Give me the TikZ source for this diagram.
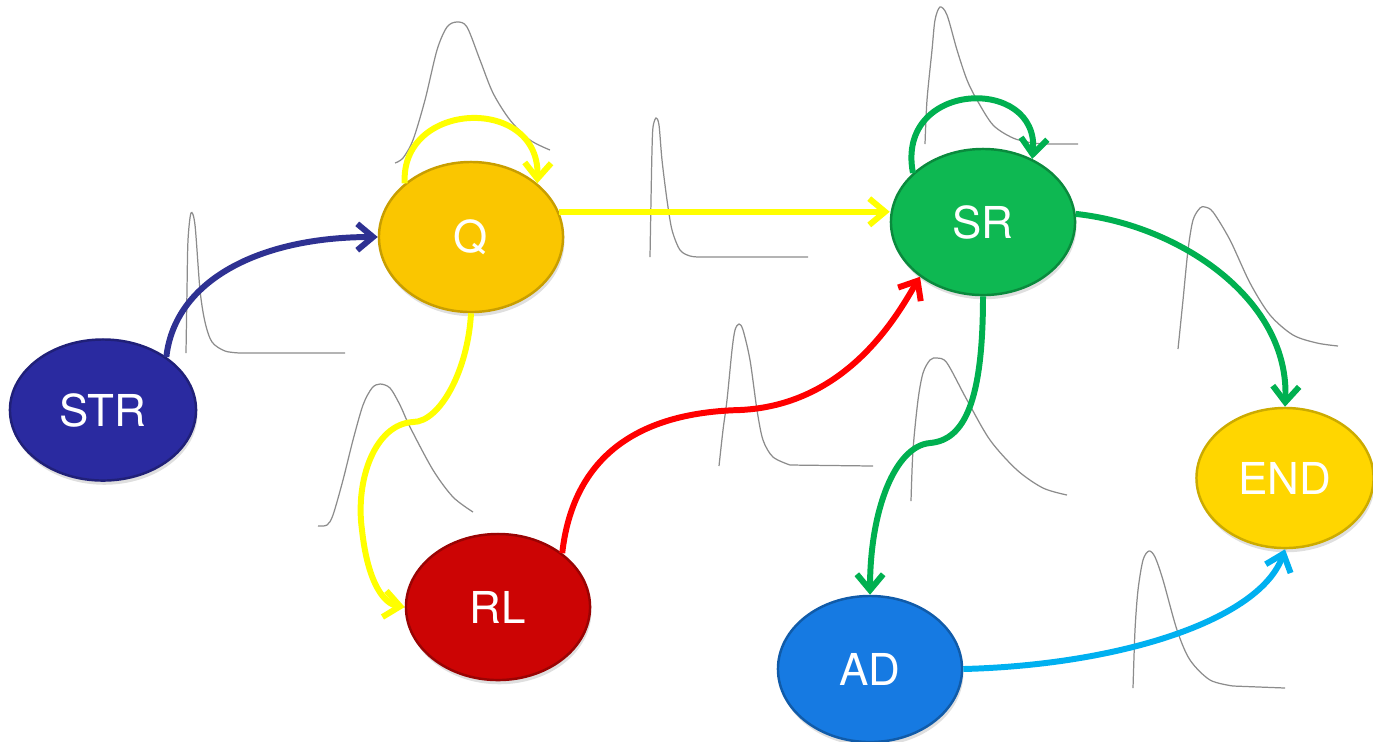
\documentclass[tikz,border=0pt]{standalone}
\usepackage{fontspec}
\newfontfamily\nodefont{TeX Gyre Heros}
\usetikzlibrary{shapes.geometric,arrows.meta,shadows}
\definecolor{cSTR}{RGB}{42,42,160}
\definecolor{cQ}{RGB}{250,198,0}
\definecolor{cSR}{RGB}{14,184,82}
\definecolor{cRL}{RGB}{204,4,4}
\definecolor{cAD}{RGB}{22,122,226}
\definecolor{cEND}{RGB}{255,214,0}
\definecolor{aBlue}{RGB}{46,49,146}
\definecolor{aYel}{RGB}{255,255,0}
\definecolor{aRed}{RGB}{255,0,0}
\definecolor{aGreen}{RGB}{0,176,80}
\definecolor{aCyan}{RGB}{0,176,240}
\definecolor{curvegray}{RGB}{140,140,140}
\tikzset{
  stnode/.style={ellipse, inner sep=0pt, line width=0.7pt, text=white,
    font=\nodefont\fontsize{12.5}{14}\selectfont,
    minimum width=1.84cm, minimum height=1.46cm,
    drop shadow={opacity=0.25, shadow xshift=0.4pt, shadow yshift=-1.2pt}},
  conn/.style={line width=1.7pt, -{Straight Barb[length=4.5pt,width=7.5pt]}},
  dist/.style={draw=curvegray, line width=0.35pt},
}
\begin{document}
\begin{tikzpicture}[x=0.01cm,y=-0.01cm]
\useasboundingbox (0,0) rectangle (1373,741);
% distribution curves
\draw[dist] plot[smooth,tension=0.5] coordinates {(186,353) (187,290) (188,240) (191,213) (195,225) (200,290) (205,322) (212,342) (225,351) (240,353)} -- (345,353);
\draw[dist] plot[smooth,tension=0.5] coordinates {(395,163) (403,158) (413,140) (425,100) (437,50) (447,27) (457,22) (467,27) (480,60) (493,93) (510,120) (530,140) (550,150)};
\draw[dist] plot[smooth,tension=0.5] coordinates {(925,144) (927,100) (932,50) (935,20) (940,7) (947,15) (957,50) (967,80) (977,100) (993,125) (1013,138) (1033,143) (1050,144)} -- (1078,144);
\draw[dist] plot[smooth,tension=0.5] coordinates {(650,257) (651,200) (652,150) (653,127) (656,118) (659,125) (662,160) (667,200) (672,230) (680,250) (690,256) (700,257)} -- (808,257);
\draw[dist] plot[smooth,tension=0.5] coordinates {(318,526) (327,525) (333,515) (343,480) (353,440) (363,405) (372,388) (380,384) (390,388) (400,405) (410,427) (433,470) (453,497) (473,512)};
\draw[dist] plot[smooth,tension=0.5] coordinates {(719,466) (723,430) (727,400) (732,350) (735,330) (739,324) (743,330) (750,360) (757,410) (763,440) (773,457) (790,465)} -- (873,466);
\draw[dist] plot[smooth,tension=0.5] coordinates {(911,501) (913,450) (918,400) (923,373) (930,360) (937,358) (947,363) (967,400) (990,440) (1017,470) (1043,488) (1067,495)};
\draw[dist] plot[smooth,tension=0.5] coordinates {(1178,349) (1183,300) (1188,250) (1193,220) (1200,208) (1205,207) (1213,212) (1230,240) (1250,283) (1270,315) (1293,335) (1317,343) (1338,346)};
\draw[dist] plot[smooth,tension=0.5] coordinates {(1133,688) (1135,630) (1138,590) (1143,560) (1149,551) (1155,557) (1163,580) (1177,630) (1190,660) (1210,680) (1233,686)} -- (1285,688);
% nodes
\node[stnode, fill=cSTR, draw=cSTR!75!black, minimum width=1.86cm, minimum height=1.41cm] (STR) at (103,410) {STR};
\node[stnode, fill=cQ, draw=cQ!80!black, minimum height=1.50cm] (Q) at (471,237) {Q};
\node[stnode, fill=cSR, draw=cSR!75!black] (SR) at (983,222) {SR};
\node[stnode, fill=cRL, draw=cRL!75!black] (RL) at (498,607) {RL};
\node[stnode, fill=cAD, draw=cAD!75!black] (AD) at (870,669) {AD};
\node[stnode, fill=cEND, draw=cEND!80!black, minimum width=1.77cm, minimum height=1.40cm] (END) at (1285,478) {END};
% connectors
\draw[conn, draw=aBlue] (STR.40) .. controls (175,280) and (260,237) .. (Q.west);
\draw[conn, draw=aYel] (Q.141) .. controls (400,100) and (540,95) .. (Q.39);
\draw[conn, draw=aYel] (Q.16) -- (Q.16 -| SR.west);
\draw[conn, draw=aYel] (Q.south) .. controls (468,370) and (440,422) .. (413,422)
   .. controls (375,424) and (355,480) .. (362,530)
   .. controls (368,585) and (385,604) .. (RL.west);
\draw[conn, draw=aRed] (RL.40) .. controls (575,440) and (660,412) .. (740,410)
   .. controls (850,405) and (900,310) .. (SR.221);
\draw[conn, draw=aGreen] (SR.145) .. controls (895,80) and (1040,75) .. (SR.52);
\draw[conn, draw=aGreen] (SR.5) .. controls (1180,225) and (1290,300) .. (END.north);
\draw[conn, draw=aGreen] (SR.south) .. controls (983,400) and (965,440) .. (930,443)
   .. controls (895,446) and (870,510) .. (AD.north);
\draw[conn, draw=aCyan] (AD.east) .. controls (1120,665) and (1260,620) .. (END.south);
\end{tikzpicture}
\end{document}
